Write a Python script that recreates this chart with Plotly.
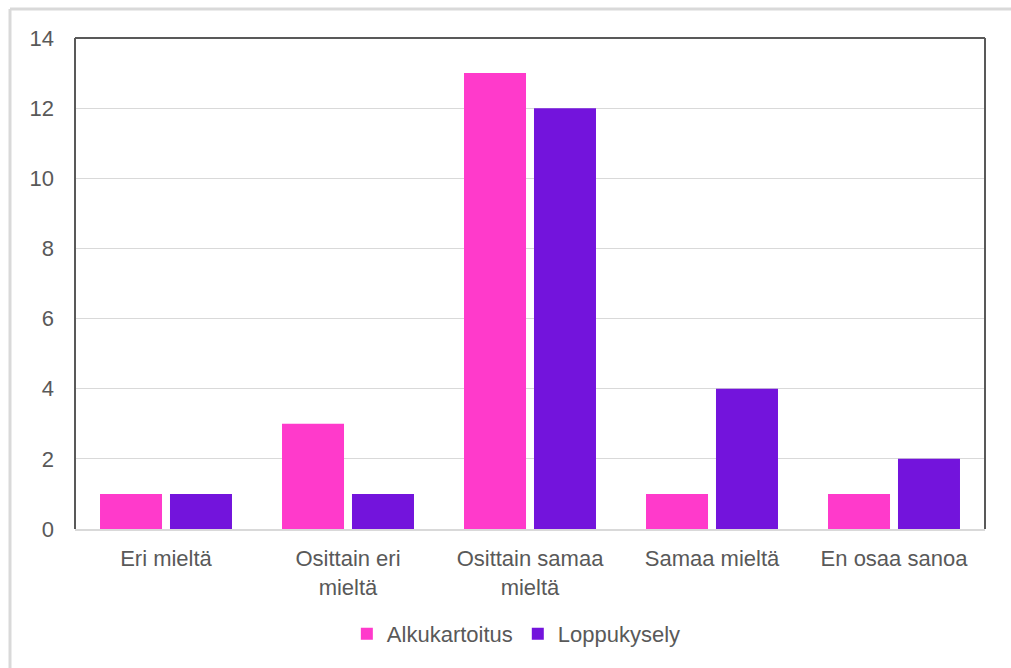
import plotly.graph_objects as go

categories = ["Eri mieltä", "Osittain eri<br>mieltä", "Osittain samaa<br>mieltä", "Samaa mieltä", "En osaa sanoa"]
alkukartoitus = [1, 3, 13, 1, 1]
loppukysely = [1, 1, 12, 4, 2]

PINK = "#FF3ACB"
PURPLE = "#7314DC"
TEXT = "#595959"
GRID = "#D9D9D9"

fig = go.Figure()
fig.add_trace(go.Bar(name="Alkukartoitus", x=categories, y=alkukartoitus,
                     marker=dict(color=PINK, line=dict(width=0))))
fig.add_trace(go.Bar(name="Loppukysely", x=categories, y=loppukysely,
                     marker=dict(color=PURPLE, line=dict(width=0))))

font = dict(family="Liberation Sans, Arial, sans-serif", size=22, color=TEXT)

fig.update_layout(
    width=1011, height=668,
    margin=dict(l=75, r=26, t=38, b=139),
    paper_bgcolor="white", plot_bgcolor="white",
    barmode="group", bargap=0.231, bargroupgap=0.114,
    font=font,
    showlegend=True,
    legend=dict(orientation="h", x=0.485, xanchor="center", y=-0.214, yanchor="middle",
                font=font, itemwidth=30, traceorder="normal"),
    xaxis=dict(showgrid=False, showline=True, linecolor=GRID, linewidth=2,
               ticks="", ticklabelstandoff=9, tickfont=font),
    yaxis=dict(range=[0, 14], dtick=2, showgrid=True, gridcolor=GRID, gridwidth=1,
               zeroline=False, showline=False, ticks="", ticklabelstandoff=20,
               tickfont=font),
)

# dark frame on the left, top and right of the plotting area
frame = dict(color="#595959", width=2)
fig.add_shape(type="line", xref="paper", yref="paper", x0=0, x1=0, y0=0, y1=1, line=frame)
fig.add_shape(type="line", xref="paper", yref="paper", x0=0, x1=1, y0=1, y1=1, line=frame)
fig.add_shape(type="line", xref="paper", yref="paper", x0=1, x1=1, y0=0, y1=1, line=frame)

# light outer chart border (top and left edges)
outer = dict(color="#D9D9D9", width=3)
fig.add_shape(type="line", xref="paper", yref="paper",
              x0=(10 - 75) / 910, x1=(1015 - 75) / 910,
              y0=(529 - 9) / 491, y1=(529 - 9) / 491, line=outer)
fig.add_shape(type="line", xref="paper", yref="paper",
              x0=(10 - 75) / 910, x1=(10 - 75) / 910,
              y0=(529 - 9) / 491, y1=(529 - 672) / 491, line=outer)

fig.write_html("out.html")
